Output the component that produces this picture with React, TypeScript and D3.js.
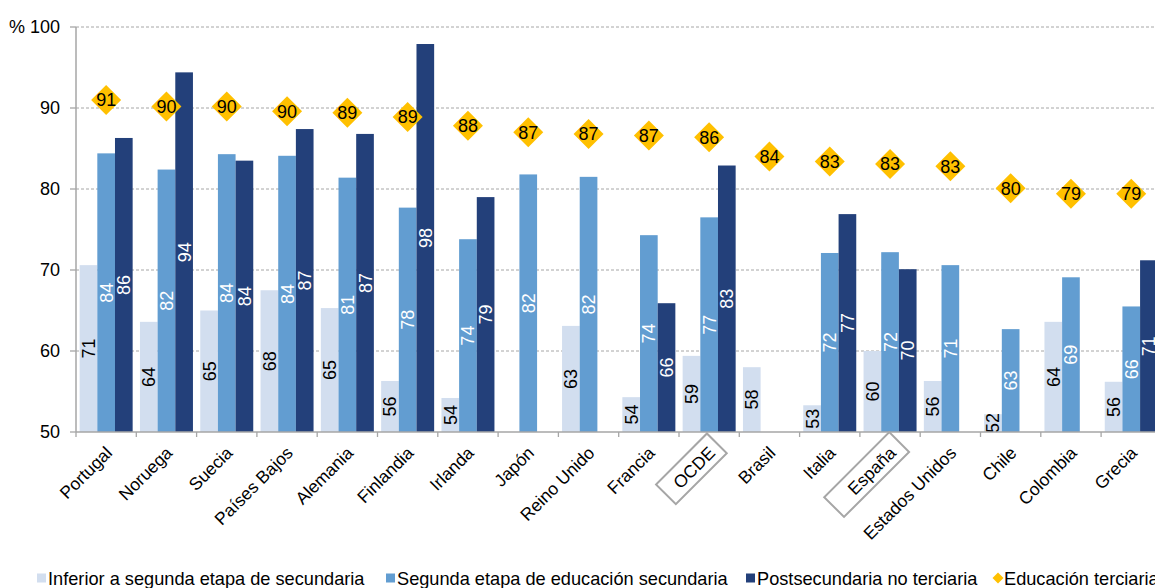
import React from "react";
import * as d3 from "d3";

const categories = ["Portugal", "Noruega", "Suecia", "Países Bajos", "Alemania", "Finlandia", "Irlanda", "Japón", "Reino Unido", "Francia", "OCDE", "Brasil", "Italia", "España", "Estados Unidos", "Chile", "Colombia", "Grecia"];
const inferior: (number | null)[] = [70.6, 63.6, 65.0, 67.5, 65.3, 56.3, 54.2, null, 63.1, 54.3, 59.4, 58.0, 53.3, 60.0, 56.3, 52.2, 63.6, 56.2];
const segunda: (number | null)[] = [84.4, 82.4, 84.3, 84.1, 81.4, 77.7, 73.8, 81.8, 81.5, 74.3, 76.5, null, 72.1, 72.2, 70.6, 62.7, 69.1, 65.5];
const postsec: (number | null)[] = [86.3, 94.4, 83.5, 87.4, 86.8, 97.9, 79.0, null, null, 65.9, 82.9, null, 76.9, 70.1, null, null, null, 71.2];
const terciaria: number[] = [91.0, 90.2, 90.2, 89.6, 89.4, 88.9, 87.8, 87.0, 86.8, 86.6, 86.4, 84.0, 83.4, 83.1, 82.8, 80.1, 79.4, 79.4];
const yTicks = [50, 60, 70, 80, 90, 100];
const seriesNames = ["Inferior a segunda etapa de secundaria", "Segunda etapa de educación secundaria", "Postsecundaria no terciaria", "Educación terciaria"];
const boxed = ["OCDE", "España"];

const W = 1155;
const H = 588;
const FONT = "'Liberation Sans', Arial, sans-serif";
const colors = ["#D2DEEF", "#629DD1", "#23407A", "#FFC000"];
const labelColors = ["#000", "#fff", "#fff"];

function diamondPath(r: number) {
  const p = d3.path();
  p.moveTo(0, -r);
  p.lineTo(r, 0);
  p.lineTo(0, r);
  p.lineTo(-r, 0);
  p.closePath();
  return p.toString();
}

export default function App() {
  const x = d3.scaleBand<string>().domain(categories).range([76, 76 + 18 * 60.3]).padding(0);
  const y = d3.scaleLinear().domain([50, 100]).range([432, 27]);
  const keys = ["inf", "seg", "post"];
  const groupW = 53;
  const sub = d3.scaleBand<string>().domain(keys).range([0, groupW]).padding(0);
  const series = [inferior, segunda, postsec];
  const bw = sub.bandwidth();
  const off = (x.bandwidth() - groupW) / 2;
  const diamond = diamondPath(15);
  const legendDiamond = diamondPath(5.5);

  const legendX = [37, 386, 746, 993];

  return (
    <svg width={W} height={H} style={{ position: "absolute", left: 0, top: 0, background: "#fff" }} fontFamily={FONT}>
      {/* grid */}
      {yTicks.map((t) => (
        <g key={t}>
          {t > 50 && (
            <line x1={76} x2={W} y1={y(t)} y2={y(t)} stroke="#a6a6a6" strokeWidth={1} strokeDasharray="3,2" />
          )}
          <line x1={70} x2={76} y1={y(t)} y2={y(t)} stroke="#a6a6a6" strokeWidth={1.3} />
          <text x={60} y={y(t)} dy="0.35em" textAnchor="end" fontSize={18} fill="#000">
            {t === 100 ? "% 100" : t}
          </text>
        </g>
      ))}
      {/* bars */}
      {categories.map((c, i) => (
        <g key={c} transform={`translate(${x(c)! + off},0)`}>
          {series.map((s, k) => {
            const v = s[i];
            if (v == null) return null;
            const bx = sub(keys[k])!;
            return <rect key={k} x={bx} y={y(v)} width={bw} height={y(50) - y(v)} fill={colors[k]} />;
          })}
          {series.map((s, k) => {
            const v = s[i];
            if (v == null) return null;
            const bx = sub(keys[k])! + bw / 2;
            const cy = (y(v) + y(50)) / 2;
            return (
              <text key={"l" + k} transform={`translate(${bx},${cy}) rotate(-90)`} textAnchor="middle" dy="0.36em" fontSize={18} fill={labelColors[k]}>
                {Math.round(v)}
              </text>
            );
          })}
        </g>
      ))}
      {/* axes */}
      <line x1={76} x2={76} y1={27} y2={432} stroke="#a6a6a6" strokeWidth={1.5} />
      <line x1={76} x2={W} y1={432} y2={432} stroke="#a6a6a6" strokeWidth={1.5} />
      {categories.map((c) => (
        <line key={"t" + c} x1={x(c)!} x2={x(c)!} y1={432} y2={437} stroke="#a6a6a6" strokeWidth={1.3} />
      ))}
      {/* tertiary diamonds */}
      {categories.map((c, i) => (
        <g key={"d" + c} transform={`translate(${x(c)! + x.bandwidth() / 2},${y(terciaria[i])})`}>
          <path d={diamond} fill={colors[3]} />
          <text textAnchor="middle" dy="0.36em" fontSize={18} fill="#000">
            {Math.round(terciaria[i])}
          </text>
        </g>
      ))}
      {/* x labels */}
      {categories.map((c) => {
        const cx = x(c)! + x.bandwidth() / 2;
        const isBox = boxed.includes(c);
        const ax = cx + 7;
        const ay = 454;
        const boxLen = c === "OCDE" ? 72 : 92;
        const boxC = c === "OCDE" ? -28 : -36;
        return (
          <g key={"x" + c} transform={`translate(${ax},${ay}) rotate(-45)`}>
            {isBox && (
              <rect x={boxC - boxLen / 2} y={-21} width={boxLen} height={28} fill="none" stroke="#a6a6a6" strokeWidth={2} />
            )}
            <text textAnchor="end" fontSize={17.5} fill="#000">
              {c}
            </text>
          </g>
        );
      })}
      {/* legend */}
      {seriesNames.map((n, k) => (
        <g key={n} transform={`translate(${legendX[k]},578)`}>
          {k < 3 ? (
            <rect x={0} y={-4.5} width={9} height={9} fill={colors[k]} />
          ) : (
            <path transform="translate(5,0)" d={legendDiamond} fill={colors[3]} />
          )}
          <text x={11} dy="0.36em" fontSize={18.2} fill="#000">
            {n}
          </text>
        </g>
      ))}
    </svg>
  );
}
